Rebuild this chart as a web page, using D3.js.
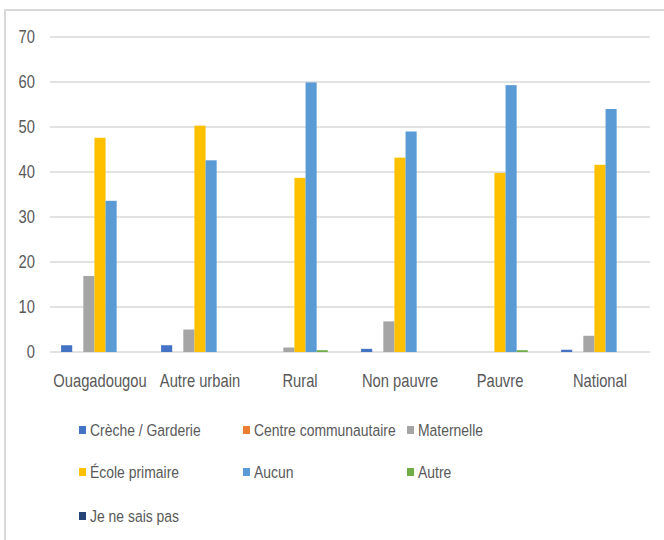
<!DOCTYPE html>
<meta charset="utf-8">
<script src="https://d3js.org/d3.v7.min.js"></script>
<style>
  body { margin: 0; background: #fff; }
  text { font-family: "Liberation Sans", Arial, sans-serif; }
</style>
<div id="my_dataviz"></div>
<script>

// categories and series
var groups = ["Ouagadougou", "Autre urbain", "Rural", "Non pauvre", "Pauvre", "National"];
var series = ["Crèche / Garderie", "Centre communautaire", "Maternelle", "École primaire", "Aucun", "Autre", "Je ne sais pas"];
var colors = ["#4472C4", "#ED7D31", "#A5A5A5", "#FFC000", "#5B9BD5", "#70AD47", "#264478"];

// values per series, one per group
var creche     = [1.5, 1.5, 0, 0.7, 0, 0.5];
var centre     = [0, 0, 0, 0, 0, 0];
var maternelle = [16.9, 5.0, 1.0, 6.8, 0, 3.6];
var primaire   = [47.6, 50.3, 38.7, 43.2, 39.8, 41.6];
var aucun      = [33.6, 42.6, 59.9, 49.0, 59.3, 54.0];
var autre      = [0, 0, 0.4, 0, 0.4, 0];
var nsp        = [0, 0, 0, 0, 0, 0];
var yTicks = [0, 10, 20, 30, 40, 50, 60, 70];

var values = [creche, centre, maternelle, primaire, aucun, autre, nsp];

var width = 664, height = 540;
var margin = {top: 37, left: 50, right: 14, bottom: 188};
var squeeze = "scale(0.82,1)";   // narrow look of the original font

var svg = d3.select("#my_dataviz")
  .append("svg")
    .attr("width", width)
    .attr("height", height);

// chart frame
svg.append("rect")
  .attr("x", 5).attr("y", 10)
  .attr("width", width + 10).attr("height", height)
  .attr("fill", "none")
  .attr("stroke", "#d9d9d9")
  .attr("stroke-width", 2);

var x0 = d3.scaleBand()
  .domain(groups)
  .range([margin.left, width - margin.right])
  .padding(0);

var x1 = d3.scaleBand()
  .domain(series)
  .range([0, x0.bandwidth()])
  .paddingInner(0)
  .paddingOuter(1);

var y = d3.scaleLinear()
  .domain([0, 70])
  .range([352, margin.top]);

// gridlines
svg.append("g")
  .selectAll("line")
  .data(yTicks)
  .enter().append("line")
    .attr("x1", x0.range()[0])
    .attr("x2", x0.range()[1])
    .attr("y1", function(d) { return y(d); })
    .attr("y2", function(d) { return y(d); })
    .attr("stroke", "#d9d9d9")
    .attr("stroke-width", 1.5);

// y axis labels
var yAxis = svg.append("g")
  .attr("transform", "translate(" + (margin.left - 15) + ",0)")
  .call(d3.axisLeft(y).tickValues(yTicks).tickSize(0).tickPadding(0));
yAxis.select(".domain").remove();
yAxis.selectAll("text")
  .attr("font-size", 18)
  .attr("font-family", null)
  .attr("fill", "#595959")
  .attr("transform", squeeze);

// x axis labels
var xAxis = svg.append("g")
  .attr("transform", "translate(0,369)")
  .call(d3.axisBottom(x0).tickSize(0).tickPadding(5));
xAxis.select(".domain").remove();
xAxis.selectAll("text")
  .attr("font-size", 18)
  .attr("font-family", null)
  .attr("fill", "#595959")
  .attr("transform", squeeze);

// bars
var rows = [];
groups.forEach(function(g, gi) {
  series.forEach(function(s, si) {
    rows.push({group: g, key: s, value: values[si][gi], color: colors[si]});
  });
});

svg.append("g")
  .selectAll("rect")
  .data(rows)
  .enter().append("rect")
    .attr("x", function(d) { return x0(d.group) + x1(d.key); })
    .attr("y", function(d) { return y(d.value); })
    .attr("width", x1.bandwidth())
    .attr("height", function(d) { return y(0) - y(d.value); })
    .attr("fill", function(d) { return d.color; });

// legend
var legendX = [79, 243, 407];
var legendY = [430, 472, 516];
var legend = svg.append("g")
  .selectAll("g")
  .data(series)
  .enter().append("g")
    .attr("transform", function(d, i) {
      return "translate(" + legendX[i % 3] + "," + legendY[Math.floor(i / 3)] + ")";
    });
legend.append("rect")
  .attr("x", 0).attr("y", -4)
  .attr("width", 7).attr("height", 8)
  .attr("fill", function(d, i) { return colors[i]; });
legend.append("text")
  .attr("transform", "translate(11,0) " + squeeze)
  .attr("dy", "0.35em")
  .attr("font-size", 17)
  .attr("fill", "#595959")
  .text(function(d) { return d; });

</script>
